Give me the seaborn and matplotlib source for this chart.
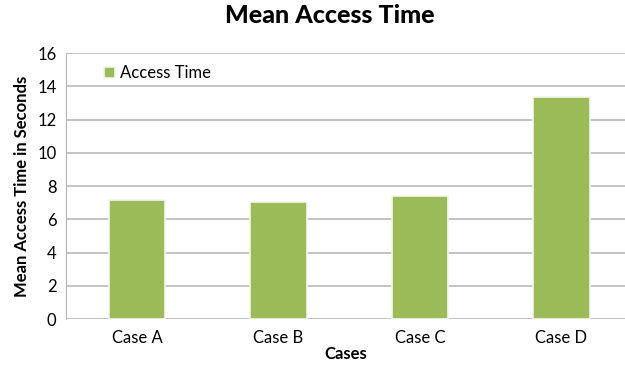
import seaborn as sns
import matplotlib.pyplot as plt
import pandas as pd

cases = ["Case A", "Case B", "Case C", "Case D"]
access_time = [7.18, 7.06, 7.40, 13.35]

df = pd.DataFrame({"case": cases, "time": access_time, "series": "Access Time"})

sns.set_style("white")
plt.rcParams["font.family"] = ["Lato", "DejaVu Sans"]
plt.rcParams["text.color"] = "black"
plt.rcParams["axes.labelcolor"] = "black"
plt.rcParams["xtick.color"] = "black"
plt.rcParams["ytick.color"] = "black"

fig = plt.figure(figsize=(6.25, 3.69), dpi=100)
ax = fig.add_axes([0.106, 0.135, 0.894, 0.721])

sns.barplot(data=df, x="case", y="time", hue="series", palette=["#9bbb59"],
            saturation=1, width=0.4, edgecolor="#f4f7ee", linewidth=1.2,
            ax=ax, zorder=3)

ax.set_ylim(0, 16)
ax.set_yticks(range(0, 17, 2))
ax.set_xlim(-0.5, 3.45)
ax.yaxis.grid(True, color="#b4b4b4", linewidth=1.1, zorder=0)
ax.set_axisbelow(True)
for s in ["top", "right", "bottom"]:
    ax.spines[s].set_visible(False)
ax.spines["left"].set_color("#b4b4b4")
ax.tick_params(axis="y", length=5, color="#b4b4b4", labelcolor="black",
               labelsize=12, pad=2)
ax.tick_params(axis="x", length=0, labelcolor="black", labelsize=12, pad=8)

ax.set_xlabel("Cases", fontsize=12, fontweight="bold", labelpad=0)
ax.set_ylabel("Mean Access Time in Seconds", fontsize=12, fontweight="bold", labelpad=5)
fig.suptitle("Mean Access Time", fontsize=18, fontweight="black", x=0.527, y=0.99)

ax.legend(loc="upper left", bbox_to_anchor=(0.04, 1.01), frameon=False,
          fontsize=12, handlelength=0.7, handleheight=0.7, handletextpad=0.3)

fig.savefig("out.png", dpi=100)
